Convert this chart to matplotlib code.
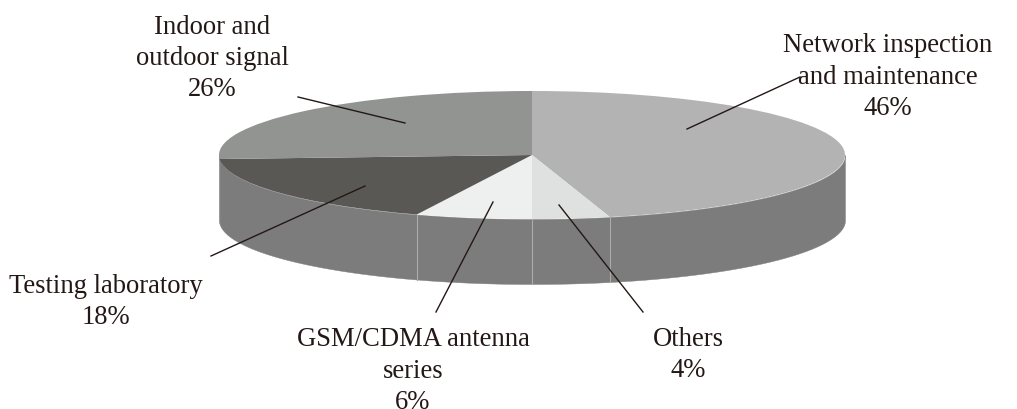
import numpy as np
import matplotlib
matplotlib.use("Agg")
import matplotlib.pyplot as plt

categories = ["Network inspection\nand maintenance", "Others", "GSM/CDMA antenna\nseries",
              "Testing laboratory", "Indoor and\noutdoor signal"]
values = [46, 4, 6, 18, 26]
top_colors = ["#b3b3b3", "#dfe1e0", "#eef0ef", "#5a5854", "#929492"]
wall_color = "#7c7c7c"
wall_edge = "#ababab"

W, H = 1017, 409
CX, CY, RX, RY, DEPTH = 532.0, 155.0, 313.0, 64.0, 65.0

def X(px):
    return (px - CX) / RX

def Y(py):
    return (CY - py) / RY

plt.rcParams["font.family"] = ["Liberation Serif", "DejaVu Serif"]
fig = plt.figure(figsize=(W / 100, H / 100), dpi=100, facecolor="white")
ax = fig.add_axes([0, 0, 1, 1])

d = DEPTH / RY
fracs = np.array(values) / sum(values)
edges = np.concatenate([[0], np.cumsum(fracs)]) * 2 * np.pi  # clockwise from 12 o'clock

# side wall (visible front half only)
for a0, a1 in zip(edges[:-1], edges[1:]):
    lo, hi = max(a0, np.pi / 2), min(a1, 3 * np.pi / 2)
    if hi <= lo:
        continue
    t = np.linspace(lo, hi, 100)
    x, y = np.sin(t), np.cos(t)
    ax.fill_between(x, y, y - d, color=wall_color, lw=0.3, zorder=1)

# seams between wedges on the wall
for a in edges[1:-1]:
    if np.pi / 2 < a < 3 * np.pi / 2 and np.sin(a) > -0.5:
        ax.plot([np.sin(a)] * 2, [np.cos(a), np.cos(a) - d], color=wall_edge, lw=0.8, zorder=2)

# top surface
wedges, _ = ax.pie(values, colors=top_colors, startangle=90, counterclock=False,
                   radius=1, center=(0, 0), frame=False, normalize=True)
for w in wedges:
    w.set_zorder(3)
    w.set_linewidth(0)

ax.set_aspect("auto")
ax.set_xlim(X(0), X(W))
ax.set_ylim(Y(H), Y(0))
ax.axis("off")

# leader lines
leaders = [((800, 77), (687, 129)), ((298, 97), (405, 123)), ((211, 256), (365, 186)),
           ((436, 312), (493, 202)), ((643, 312), (559, 205))]
for (x0, y0), (x1, y1) in leaders:
    ax.plot([X(x0), X(x1)], [Y(y0), Y(y1)], color="#231815", lw=1.0, zorder=5)

# labels
label_pos = [(888, 77), (688, 355), (413, 371), (106, 302), (212, 58.5)]
for name, val, (px, py) in zip(categories, values, label_pos):
    ax.text(X(px), Y(py), f"{name}\n{val}%", ha="center", va="center", fontsize=19.2,
            color="#231815", linespacing=1.34, zorder=6, clip_on=False)

fig.savefig("out.png", dpi=100, facecolor="white")
